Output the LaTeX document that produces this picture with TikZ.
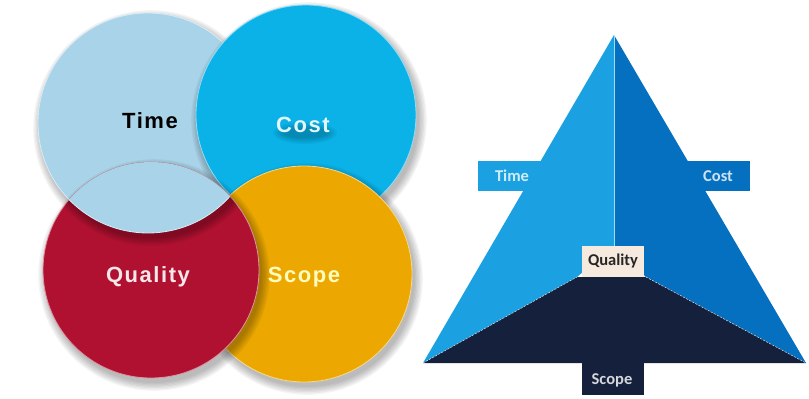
\documentclass[tikz,border=0pt]{standalone}
\usepackage{fontspec}
\setmainfont{Liberation Sans}
\newfontfamily\circfont[LetterSpace=7]{Liberation Sans}
\newfontfamily\trifont{Carlito}
\definecolor{ctime}{RGB}{169,211,232}
\definecolor{ccost}{RGB}{10,178,232}
\definecolor{cqual}{RGB}{176,17,48}
\definecolor{cscope}{RGB}{236,168,0}
\definecolor{tleft}{RGB}{27,161,226}
\definecolor{tright}{RGB}{6,112,192}
\definecolor{tnavy}{RGB}{20,32,60}
\definecolor{tqual}{RGB}{246,234,222}
\tikzset{
  circlabel/.style={font=\circfont\bfseries\fontsize{22}{24}\selectfont, inner sep=0pt},
  trilabel/.style={font=\trifont\bfseries\fontsize{16.5}{18}\selectfont, inner sep=0pt},
}
\newcommand{\softshadow}[3]{%
  \foreach \k in {0,...,6}{\fill[black, opacity=0.045] ($(#1)+(3,5)$) circle[radius=#2+\k*1.3];}%
  \fill[#3, draw=white!55!#3, line width=0.8pt] (#1) circle[radius=#2];}
\usetikzlibrary{calc}
\begin{document}
\begin{tikzpicture}[x=1pt,y=-1pt]
\useasboundingbox (0,0) rectangle (809,399);
% circle centres
\coordinate (cT) at (148,123);
\coordinate (cC) at (306,115);
\coordinate (cS) at (304,274);
\coordinate (cQ) at (151,270);
% painted in cyclic order: Cost over Time, Scope over Cost, Quality over Scope, Time over Quality
\softshadow{cT}{110}{ctime}
\softshadow{cC}{110}{ccost}
\softshadow{cS}{108}{cscope}
\softshadow{cQ}{108}{cqual}
\begin{scope}
  \clip (cQ) circle[radius=108];
  \softshadow{cT}{110}{ctime}
\end{scope}
% soft shade under the Cost label
\foreach \k in {0,...,5}{\fill[black, opacity=0.04] (305,133) ellipse[x radius=22+\k*2, y radius=5+\k*1.2];}
% circle labels
\node[circlabel, text=black] (lTime) at (150,121) {Time};
\node[circlabel, text=white!88!ccost] (lCost) at (303,125) {Cost};
\node[circlabel, text=white!90!cqual] (lQual) at (148,277) {Quality};
\node[circlabel, text=white!75!yellow] (lScope) at (304,277) {Scope};
% triangle
\coordinate (apex) at (614,35);
\coordinate (bl) at (423,363);
\coordinate (br) at (806,363);
\coordinate (mid) at (614,246);
\coordinate (ql) at (577,277);
\coordinate (qr) at (646,277);
% side label boxes (behind the triangle)
\fill[tleft] (478,161) rectangle (550,191);
\fill[tright] (680,161) rectangle (750,191);
\fill[tleft] (apex) -- (mid) -- (ql) -- (bl) -- cycle;
\fill[tright] (apex) -- (mid) -- (qr) -- (br) -- cycle;
\fill[tnavy] (bl) -- (ql) -- (qr) -- (br) -- cycle;
\fill[tnavy] (582,360) rectangle (644,395);
\draw[white, opacity=0.8, line width=0.5pt, dash pattern=on 2pt off 1.5pt] (bl) -- (ql);
\draw[white, opacity=0.8, line width=0.5pt, dash pattern=on 2pt off 1.5pt] (qr) -- (br);
\draw[white!60!tleft, line width=0.4pt] (apex) -- (mid);
\node[trilabel, fill=tqual, text=black!85, minimum width=62pt, minimum height=31pt] (lQ) at (613,261) {Quality};
\node[trilabel, text=white!80!tleft] (lT) at (512,176) {Time};
\node[trilabel, text=white!80!tright] (lC) at (718,176) {Cost};
\node[trilabel, text=white!82!tnavy] (lS) at (612,380) {Scope};
\end{tikzpicture}
\end{document}
